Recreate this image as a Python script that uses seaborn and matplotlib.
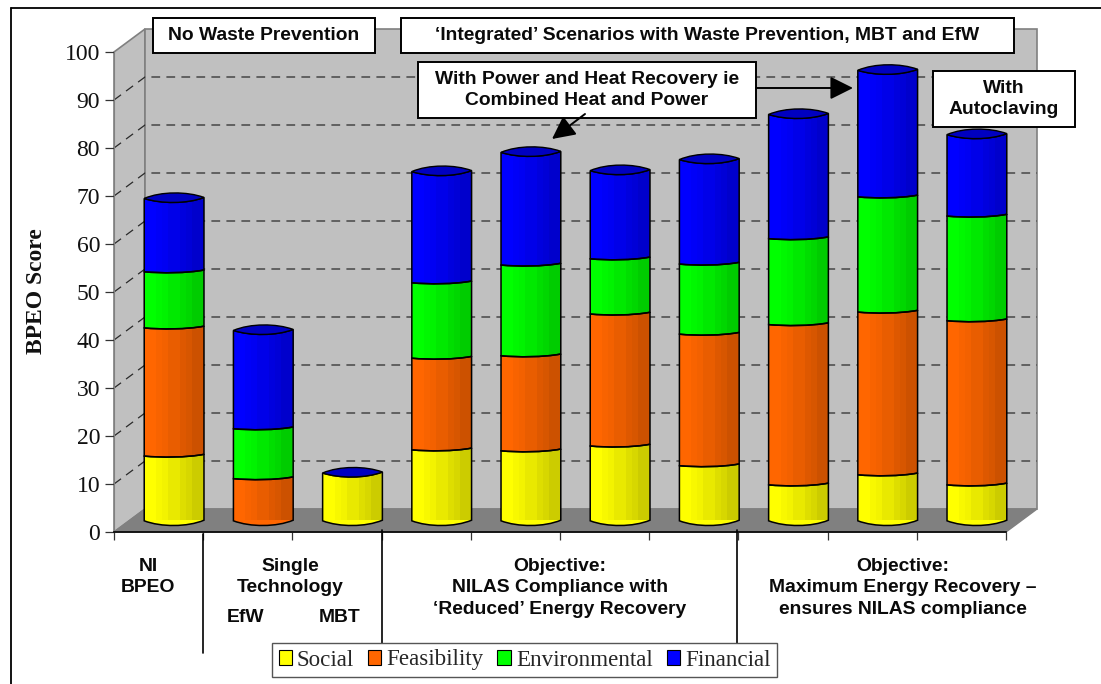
import numpy as np
import matplotlib
matplotlib.use("Agg")
import matplotlib.pyplot as plt
from matplotlib.patches import Polygon, PathPatch, Rectangle
from matplotlib.path import Path
import seaborn as sns

# values (bottom to top of each cylinder)
scenarios = ["NI BPEO", "EfW", "MBT", "Red 1", "Red 2", "Red 3", "Red 4", "Max 1", "Max 2", "Autoclaving"]
social = [13.6, 0, 10.0, 14.9, 14.7, 15.7, 11.6, 7.6, 9.7, 7.6]
feasibility = [26.7, 8.9, 0, 19.1, 19.8, 27.5, 27.4, 33.4, 33.9, 34.2]
environmental = [11.7, 10.4, 0, 15.7, 18.9, 11.5, 14.6, 17.9, 24.0, 21.8]
financial = [15.2, 20.4, 0, 23.1, 23.4, 18.3, 21.7, 25.8, 26.3, 16.9]

series = ["Social", "Feasibility", "Environmental", "Financial"]
colours = ["#FFFF00", "#FF6600", "#00FF00", "#0000FF"]
y_ticks = list(range(0, 101, 10))
grid_levels = list(range(10, 100, 10))

W, H = 1101, 684
sns.set_style("white")
plt.rcParams["font.family"] = ["Liberation Sans", "DejaVu Sans"]
serif = "Liberation Serif"

fig = plt.figure(figsize=(W / 100, H / 100), dpi=100)


def px_axes(x0, x1, y_top, y_bot, z):
    a = fig.add_axes([x0 / W, 1 - y_bot / H, (x1 - x0) / W, (y_bot - y_top) / H], zorder=z)
    a.patch.set_alpha(0)
    return a


# front plane carries the value axis and the walls
back = px_axes(114, 1006, 52, 532, 1)
back.set_xlim(0, 10)
back.set_ylim(0, 100)
dx, dy = 31 / 89.2, 23 / 4.8
wall_kw = dict(clip_on=False, facecolor="#C0C0C0", edgecolor="#808080", lw=1.2)
back.add_patch(Polygon([(0, 0), (dx, dy), (dx, 100 + dy), (0, 100)], zorder=0, **wall_kw))
back.add_patch(Polygon([(dx, dy), (10 + dx, dy), (10 + dx, 100 + dy), (dx, 100 + dy)], zorder=0, **wall_kw))
back.add_patch(Polygon([(0, 0), (10, 0), (10 + dx, dy), (dx, dy)], zorder=1, clip_on=False,
                       facecolor="#808080", edgecolor="#808080"))
for lv in grid_levels:
    back.plot([0, dx, 10 + dx], [lv, lv + dy, lv + dy], color="#2a2a2a", lw=0.9,
              ls=(0, (7, 5)), clip_on=False, zorder=2)
back.set_yticks(y_ticks)
back.set_xticks(range(0, 11))
back.set_xticklabels([])
back.tick_params(axis="y", length=6.5, width=0.9, color="#333333", labelsize=17, pad=3.5,
                 labelcolor="#111111", left=True)
back.tick_params(axis="x", length=6, width=0.9, color="#333333", bottom=True)
for t in back.get_yticklabels():
    t.set_family(serif)
back.spines["top"].set_visible(False)
back.spines["right"].set_visible(False)
back.spines["left"].set_color("#808080")
back.spines["bottom"].set_color("black")
back.spines["bottom"].set_linewidth(1.2)

# cylinders sit half way into the depth of the floor
ax = px_axes(129.5, 1021.5, 40.5, 520.5, 2)
cum = np.zeros(len(scenarios))
for name, vals, col in zip(series, [social, feasibility, environmental, financial], colours):
    sns.barplot(x=scenarios, y=vals, bottom=cum, color=col, saturation=1, width=0.67,
                order=scenarios, ax=ax, label=name, linewidth=0)
    cum = cum + np.array(vals)
ax.set_xlim(-0.5, 9.5)
ax.set_ylim(0, 100)
ax.set_axis_off()
handles, labels = ax.get_legend_handles_labels()
ax.get_legend().remove()

shade = np.array([0, 0, 0.03, 0.05, 0.09, 0.09, 0.13, 0.16, 0.2, 0.2])
shade_img = np.zeros((1, len(shade), 4))
shade_img[0, :, 3] = shade
px = 1 / 4.8


def rim(x0, x1, y, bulge, tilt=0.4):
    # front rim of a cylinder slice, left to right
    w = x1 - x0
    return [(x0, y - tilt * px), (x0 + 0.28 * w, y - bulge * px / 0.75), (x0 + 0.72 * w, y - bulge * px / 0.75),
            (x1, y + tilt * px)]


for i in range(len(scenarios)):
    parts = [c[i] for c in ax.containers if c[i].get_height() > 0]
    for j, r in enumerate(parts):
        x0, x1 = r.get_x(), r.get_x() + r.get_width()
        y0, y1 = r.get_y(), r.get_y() + r.get_height()
        low = rim(x0, x1, y0, 5 if j == 0 else 1.8, 0.3 if j == 0 else 0.9)
        up = rim(x0, x1, y1, 1.8 if j < len(parts) - 1 else 4.5, 0.9 if j < len(parts) - 1 else 0.5)
        verts = low + [up[3]] + [up[2], up[1], up[0]] + [low[0]]
        codes = [Path.MOVETO, Path.CURVE4, Path.CURVE4, Path.CURVE4, Path.LINETO,
                 Path.CURVE4, Path.CURVE4, Path.CURVE4, Path.CLOSEPOLY]
        path = Path(verts, codes)
        body = PathPatch(path, facecolor=r.get_facecolor(), edgecolor="none", clip_on=False, zorder=3)
        ax.add_patch(body)
        im = ax.imshow(shade_img, extent=(x0, x1, y0 - 3, y1 + 3), aspect="auto",
                       interpolation="nearest", zorder=4)
        im.set_clip_path(body)
        ax.add_patch(PathPatch(path, facecolor="none", edgecolor="black", lw=1.1, clip_on=False, zorder=5))
    # top cap
    top = parts[-1]
    x0, x1, y1 = top.get_x(), top.get_x() + top.get_width(), top.get_y() + top.get_height()
    fr = rim(x0, x1, y1, 4.5, 0.5)
    bk = rim(x0, x1, y1, -5, 0.5)
    verts = fr + [bk[2], bk[1], bk[0], bk[0]]
    codes = [Path.MOVETO, Path.CURVE4, Path.CURVE4, Path.CURVE4, Path.CURVE4, Path.CURVE4, Path.CURVE4, Path.CLOSEPOLY]
    ax.add_patch(PathPatch(Path(verts, codes), facecolor="#0000C0", edgecolor="black", lw=1.0,
                           clip_on=False, zorder=6))
ax.set_xlim(-0.5, 9.5)
ax.set_ylim(0, 100)

# annotations in pixel space
ov = fig.add_axes([0, 0, 1, 1], zorder=3)
ov.set_xlim(0, W)
ov.set_ylim(H, 0)
ov.axis("off")

ov.plot([11, 11], [8, H], color="black", lw=1.3)
ov.plot([11, W], [8, 8], color="black", lw=1.3)

for xv, y0, y1 in [(203, 534, 653), (382, 530, 644), (737, 530, 644)]:
    ov.plot([xv, xv], [y0, y1], color="black", lw=1.2)

sans = dict(ha="center", va="center", fontweight="bold", color="#0a0a0a", fontsize=13.9, linespacing=1.37)
boxes = [
    (153, 18, 375, 53, "No Waste Prevention"),
    (401, 18, 1014, 53, "‘Integrated’ Scenarios with Waste Prevention, MBT and EfW"),
    (418, 62, 756, 118, "With Power and Heat Recovery ie\nCombined Heat and Power"),
    (933, 71, 1075, 127, "With\nAutoclaving"),
]
for x0, y0, x1, y1, txt in boxes:
    ov.add_patch(Rectangle((x0, y0), x1 - x0, y1 - y0, facecolor="white", edgecolor="black", lw=1.4, zorder=7))
    ov.text((x0 + x1) / 2, (y0 + y1) / 2, txt, zorder=8, **sans)

arrow = dict(arrowstyle="-|>,head_length=1.0,head_width=0.5", mutation_scale=14, color="black", lw=1.4,
             shrinkA=0, shrinkB=0)
ov.annotate("", xy=(853, 88), xytext=(756, 88), arrowprops=arrow, zorder=8)
ov.annotate("", xy=(552, 139), xytext=(585, 114), arrowprops=arrow, zorder=8)

ov.text(148, 577, "NI\nBPEO", **sans)
ov.text(290, 577, "Single\nTechnology", **sans)
ov.text(246, 617, "EfW", **sans)
ov.text(340, 617, "MBT", **sans)
ov.text(560, 588, "Objective:\nNILAS Compliance with\n‘Reduced’ Energy Recovery", **sans)
ov.text(903, 588, "Objective:\nMaximum Energy Recovery –\nensures NILAS compliance", **sans)
ov.text(36, 291, "BPEO Score", rotation=90, ha="center", va="center", family=serif,
        fontweight="bold", fontsize=17, color="#111111")

leg = ov.legend(handles, labels, ncol=4, loc="center", bbox_to_anchor=(524.5 / W, 1 - 660 / H),
                bbox_transform=fig.transFigure, frameon=True, fancybox=False, edgecolor="#555555",
                framealpha=1, prop={"family": serif, "size": 16.6}, handlelength=0.58, handleheight=0.58,
                handletextpad=0.22, columnspacing=0.6, borderpad=0.3, borderaxespad=0)
for h in leg.legend_handles:
    h.set_edgecolor("black")
    h.set_linewidth(0.8)

fig.savefig("out.png", dpi=100)
